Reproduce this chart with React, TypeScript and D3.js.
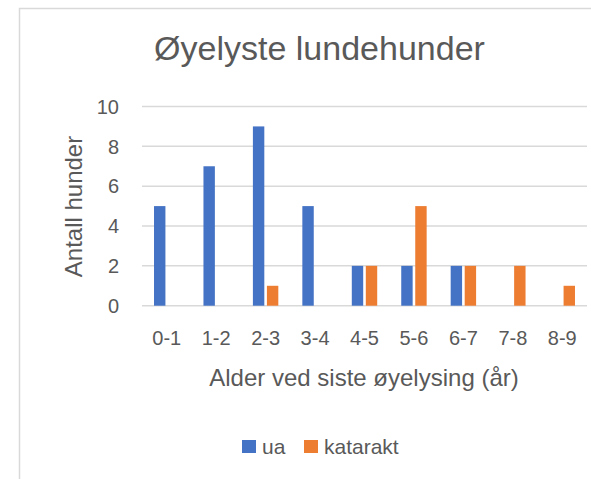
import React from "react";
import * as d3 from "d3";

const W = 591;
const H = 479;
const PLOT = { LEFT: 142, RIGHT: 587, TOP: 106.5, BOTTOM: 305.7 };

const ageGroups = ["0-1", "1-2", "2-3", "3-4", "4-5", "5-6", "6-7", "7-8", "8-9"];
const seriesNames = ["ua", "katarakt"];
const uaValues = [5, 7, 9, 5, 2, 2, 2, 0, 0];
const katarakValues = [0, 0, 1, 0, 2, 5, 2, 2, 1];
const yTicks = [0, 2, 4, 6, 8, 10];
const COLORS = ["#4472C4", "#ED7D31"];

const FONT = "'Liberation Sans', Arial, sans-serif";
const TEXT = "#595959";
const GRID = "#d9d9d9";

export default function App() {
  const x = d3
    .scaleBand<string>()
    .domain(ageGroups)
    .range([PLOT.LEFT, PLOT.RIGHT])
    .paddingInner(0.486)
    .paddingOuter(0.243);

  const xInner = d3
    .scaleBand<string>()
    .domain(seriesNames)
    .range([0, x.bandwidth()])
    .paddingInner(0.186);

  const y = d3.scaleLinear().domain([0, 10]).range([PLOT.BOTTOM, PLOT.TOP]);

  const seriesValues = [uaValues, katarakValues];

  const legendItems = [
    { name: "ua", sx: 242, tx: 262 },
    { name: "katarakt", sx: 304, tx: 324 },
  ];

  return (
    <svg
      width={W}
      height={H}
      style={{ position: "absolute", left: 0, top: 0, background: "#fff" }}
      fontFamily={FONT}
    >
      <rect x={0} y={0} width={W} height={H} fill="#fff" />
      {/* chart frame, cut off by the picture at right and bottom */}
      <rect x={19.5} y={8.5} width={W + 20} height={H + 20} fill="none" stroke={GRID} strokeWidth={1.5} />

      <text x={319.5} y={60} textAnchor="middle" fontSize={34} fill={TEXT}>
        Øyelyste lundehunder
      </text>

      {/* gridlines and y ticks */}
      {yTicks.map((t) => (
        <g key={t}>
          <line x1={PLOT.LEFT} x2={PLOT.RIGHT} y1={y(t)} y2={y(t)} stroke={GRID} strokeWidth={1.5} />
          <text x={119} y={y(t) + 7.3} textAnchor="end" fontSize={20} fill={TEXT}>
            {t}
          </text>
        </g>
      ))}

      {/* bars */}
      {seriesNames.map((s, si) =>
        ageGroups.map((g, i) => {
          const v = seriesValues[si][i];
          if (!v) return null;
          return (
            <rect
              key={s + g}
              x={(x(g) as number) + (xInner(s) as number)}
              y={y(v)}
              width={xInner.bandwidth()}
              height={y(0) - y(v)}
              fill={COLORS[si]}
            />
          );
        })
      )}

      {/* x tick labels */}
      {ageGroups.map((g) => (
        <text
          key={g}
          x={(x(g) as number) + x.bandwidth() / 2}
          y={345}
          textAnchor="middle"
          fontSize={20}
          fill={TEXT}
        >
          {g}
        </text>
      ))}

      <text x={364} y={386} textAnchor="middle" fontSize={24} fill={TEXT}>
        Alder ved siste øyelysing (år)
      </text>

      <text
        transform={`translate(82,206.5) rotate(-90)`}
        textAnchor="middle"
        fontSize={24}
        fill={TEXT}
      >
        Antall hunder
      </text>

      {/* legend */}
      {legendItems.map((l, i) => (
        <g key={l.name}>
          <rect x={l.sx} y={440} width={14} height={13} fill={COLORS[i]} />
          <text x={l.tx} y={454} fontSize={21} fill={TEXT}>
            {l.name}
          </text>
        </g>
      ))}
    </svg>
  );
}
